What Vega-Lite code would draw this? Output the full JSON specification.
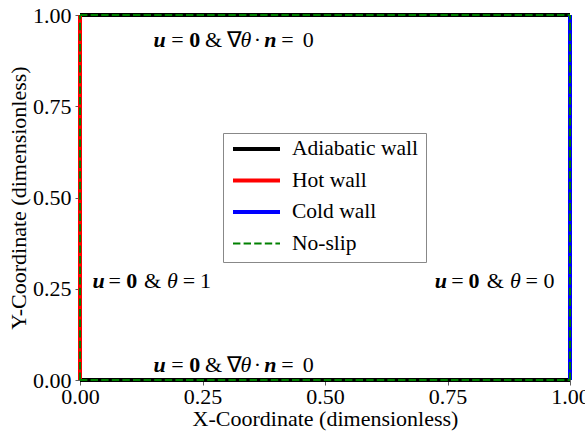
{
  "$schema": "https://vega.github.io/schema/vega-lite/v6.json",
  "width": 490,
  "height": 365,
  "autosize": "none",
  "padding": {"left": 80, "top": 15, "right": 15, "bottom": 55},
  "background": "white",
  "config": {
    "view": {"stroke": null},
    "font": "Liberation Serif",
    "axis": {
      "labelFont": "Liberation Serif",
      "labelFontSize": 22,
      "labelColor": "black",
      "titleFont": "Liberation Serif",
      "titleFontSize": 22,
      "titleFontWeight": "normal",
      "titleColor": "black",
      "grid": false,
      "tickSize": 5,
      "tickColor": "#333333",
      "tickWidth": 0.8,
      "domainColor": "black",
      "domainWidth": 0.8,
      "labelFlush": false,
      "labelOverlap": false
    },
    "legend": {
      "orient": "none",
      "legendX": 143,
      "legendY": 118,
      "title": null,
      "symbolType": "stroke",
      "symbolSize": 2209,
      "clipHeight": 16,
      "rowPadding": 9.5,
      "padding": 8,
      "strokeColor": "#888888",
      "fillColor": "white",
      "labelFont": "Liberation Serif",
      "labelFontSize": 21.5,
      "labelColor": "black",
      "labelOffset": 10,
      "labelLimit": 300,
      "cornerRadius": 0
    }
  },
  "layer": [
    {
      "data": {
        "values": [
          {"series": "Adiabatic wall", "seg": "top", "o": 0, "x": 0, "y": 1},
          {"series": "Adiabatic wall", "seg": "top", "o": 1, "x": 1, "y": 1},
          {"series": "Adiabatic wall", "seg": "bottom", "o": 0, "x": 0, "y": 0},
          {"series": "Adiabatic wall", "seg": "bottom", "o": 1, "x": 1, "y": 0},
          {"series": "Hot wall", "seg": "left", "o": 0, "x": 0, "y": 0},
          {"series": "Hot wall", "seg": "left", "o": 1, "x": 0, "y": 1},
          {"series": "Cold wall", "seg": "right", "o": 0, "x": 1, "y": 0},
          {"series": "Cold wall", "seg": "right", "o": 1, "x": 1, "y": 1},
          {"series": "No-slip", "seg": "ns_bottom", "o": 0, "x": 0, "y": 0},
          {"series": "No-slip", "seg": "ns_bottom", "o": 1, "x": 1, "y": 0},
          {"series": "No-slip", "seg": "ns_right", "o": 0, "x": 1, "y": 0},
          {"series": "No-slip", "seg": "ns_right", "o": 1, "x": 1, "y": 1},
          {"series": "No-slip", "seg": "ns_top", "o": 0, "x": 0, "y": 1},
          {"series": "No-slip", "seg": "ns_top", "o": 1, "x": 1, "y": 1},
          {"series": "No-slip", "seg": "ns_left", "o": 0, "x": 0, "y": 0},
          {"series": "No-slip", "seg": "ns_left", "o": 1, "x": 0, "y": 1}
        ]
      },
      "mark": {"type": "line", "strokeCap": "butt"},
      "encoding": {
        "x": {"field": "x", "type": "quantitative", "scale": {"domain": [0, 1], "nice": false, "zero": false}, "title": "X-Coordinate (dimensionless)", "axis": {"values": [0, 0.25, 0.5, 0.75, 1], "format": ".2f", "labelPadding": 1, "titlePadding": 1}},
        "y": {"field": "y", "type": "quantitative", "scale": {"domain": [0, 1], "nice": false, "zero": false}, "title": "Y-Coordinate (dimensionless)", "axis": {"values": [0, 0.25, 0.5, 0.75, 1], "format": ".2f", "labelPadding": 4, "titlePadding": 2}},
        "color": {"field": "series", "type": "nominal", "scale": {"domain": ["Adiabatic wall", "Hot wall", "Cold wall", "No-slip"], "range": ["black", "red", "blue", "green"]}},
        "strokeDash": {"field": "series", "type": "nominal", "scale": {"domain": ["Adiabatic wall", "Hot wall", "Cold wall", "No-slip"], "range": [[1, 0], [1, 0], [1, 0], [7.4, 3.2]]}},
        "strokeWidth": {"field": "series", "type": "nominal", "scale": {"type": "ordinal", "domain": ["Adiabatic wall", "Hot wall", "Cold wall", "No-slip"], "range": [4, 4, 4, 2]}},
        "detail": {"field": "seg"},
        "order": {"field": "o", "type": "quantitative"}
      }
    },
    {
      "data": {
        "values": [
          {"x": 0.1627, "y": 0.9315, "t": "u"},
          {"x": 0.3884, "y": 0.9315, "t": "n"},
          {"x": 0.1627, "y": 0.041, "t": "u"},
          {"x": 0.3884, "y": 0.041, "t": "n"},
          {"x": 0.0378, "y": 0.2712, "t": "u"},
          {"x": 0.7363, "y": 0.2712, "t": "u"}
        ]
      },
      "mark": {"type": "text", "font": "Liberation Serif", "fontSize": 22, "fontWeight": "bold", "fontStyle": "italic", "align": "center", "baseline": "middle", "color": "black"},
      "encoding": {
        "x": {"field": "x", "type": "quantitative"},
        "y": {"field": "y", "type": "quantitative"},
        "text": {"field": "t"}
      }
    },
    {
      "data": {
        "values": [
          {"x": 0.2341, "y": 0.9315, "t": "0"},
          {"x": 0.2341, "y": 0.041, "t": "0"},
          {"x": 0.1055, "y": 0.2712, "t": "0"},
          {"x": 0.8041, "y": 0.2712, "t": "0"}
        ]
      },
      "mark": {"type": "text", "font": "Liberation Serif", "fontSize": 22, "fontWeight": "bold", "align": "center", "baseline": "middle", "color": "black"},
      "encoding": {
        "x": {"field": "x", "type": "quantitative"},
        "y": {"field": "y", "type": "quantitative"},
        "text": {"field": "t"}
      }
    },
    {
      "data": {
        "values": [
          {"x": 0.3385, "y": 0.9315, "t": "θ"},
          {"x": 0.3385, "y": 0.041, "t": "θ"},
          {"x": 0.1884, "y": 0.2712, "t": "θ"},
          {"x": 0.8884, "y": 0.2712, "t": "θ"}
        ]
      },
      "mark": {"type": "text", "font": "Liberation Serif", "fontSize": 22, "fontStyle": "italic", "align": "center", "baseline": "middle", "color": "black"},
      "encoding": {
        "x": {"field": "x", "type": "quantitative"},
        "y": {"field": "y", "type": "quantitative"},
        "text": {"field": "t"}
      }
    },
    {
      "data": {
        "values": [
          {"x": 0.1990, "y": 0.9315, "t": "="},
          {"x": 0.2725, "y": 0.9315, "t": "&"},
          {"x": 0.3160, "y": 0.9315, "t": "∇"},
          {"x": 0.3620, "y": 0.9315, "t": "·"},
          {"x": 0.4235, "y": 0.9315, "t": "="},
          {"x": 0.4659, "y": 0.9315, "t": "0"},
          {"x": 0.1990, "y": 0.041, "t": "="},
          {"x": 0.2725, "y": 0.041, "t": "&"},
          {"x": 0.3160, "y": 0.041, "t": "∇"},
          {"x": 0.3620, "y": 0.041, "t": "·"},
          {"x": 0.4235, "y": 0.041, "t": "="},
          {"x": 0.4659, "y": 0.041, "t": "0"},
          {"x": 0.0708, "y": 0.2712, "t": "="},
          {"x": 0.1480, "y": 0.2712, "t": "&"},
          {"x": 0.2224, "y": 0.2712, "t": "="},
          {"x": 0.2561, "y": 0.2712, "t": "1"},
          {"x": 0.7704, "y": 0.2712, "t": "="},
          {"x": 0.8476, "y": 0.2712, "t": "&"},
          {"x": 0.9218, "y": 0.2712, "t": "="},
          {"x": 0.9571, "y": 0.2712, "t": "0"}
        ]
      },
      "mark": {"type": "text", "font": "Liberation Serif", "fontSize": 22, "align": "center", "baseline": "middle", "color": "black"},
      "encoding": {
        "x": {"field": "x", "type": "quantitative"},
        "y": {"field": "y", "type": "quantitative"},
        "text": {"field": "t"}
      }
    }
  ]
}
